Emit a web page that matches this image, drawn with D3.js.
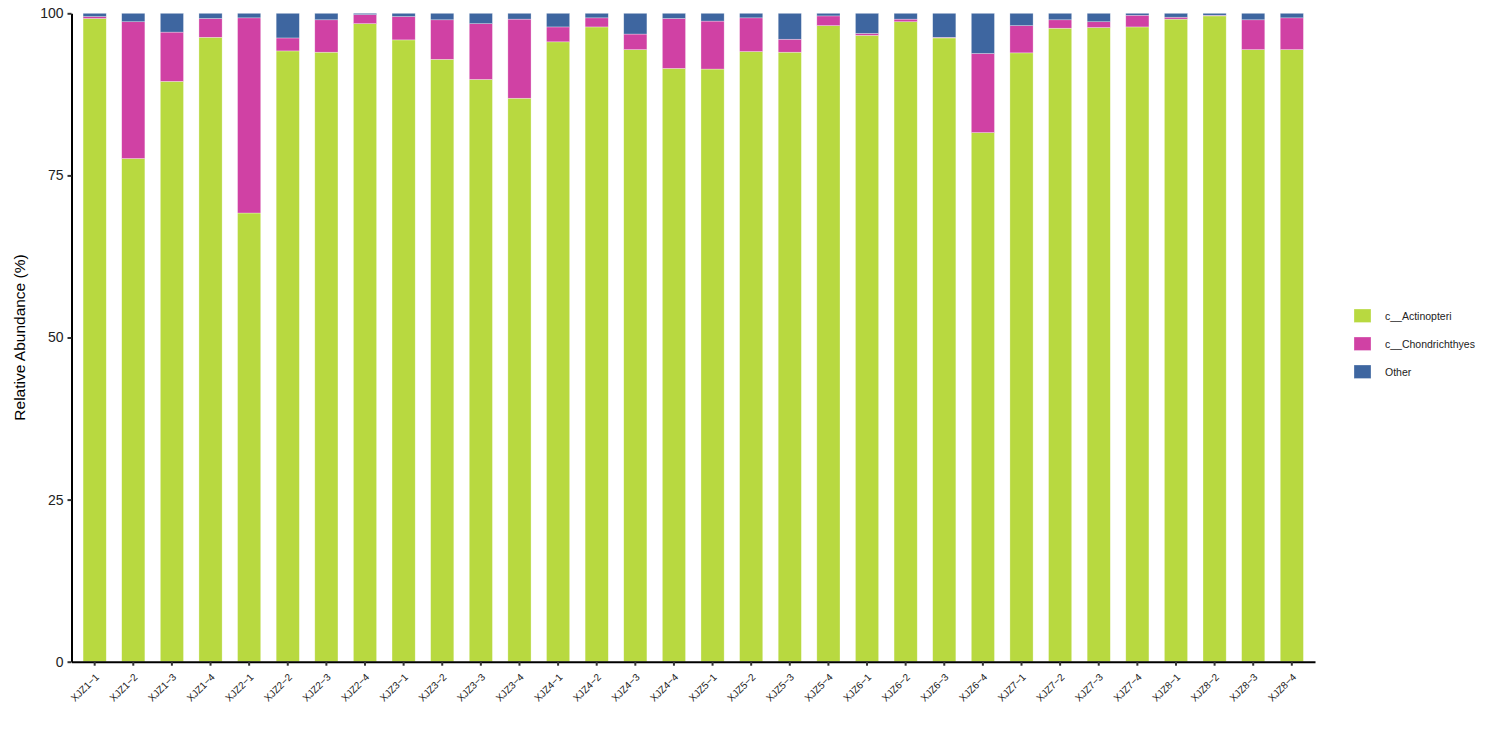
<!DOCTYPE html>
<html lang="en">
<head>
    <meta charset="UTF-8">
    <title>Relative Abundance</title>
    <script src="https://d3js.org/d3.v7.min.js"></script>
    <style>
        * { margin: 0; padding: 0; }
        body { background: #fff; }
        text { font-family: "Liberation Sans", Arial, sans-serif; }
    </style>
</head>
<body>
    <svg width="1500" height="750"></svg>
    <script>
        var samples = ["XJZ1−1", "XJZ1−2", "XJZ1−3", "XJZ1−4", "XJZ2−1", "XJZ2−2", "XJZ2−3", "XJZ2−4",
            "XJZ3−1", "XJZ3−2", "XJZ3−3", "XJZ3−4", "XJZ4−1", "XJZ4−2", "XJZ4−3", "XJZ4−4",
            "XJZ5−1", "XJZ5−2", "XJZ5−3", "XJZ5−4", "XJZ6−1", "XJZ6−2", "XJZ6−3", "XJZ6−4",
            "XJZ7−1", "XJZ7−2", "XJZ7−3", "XJZ7−4", "XJZ8−1", "XJZ8−2", "XJZ8−3", "XJZ8−4"];
        var taxa = ["c__Actinopteri", "c__Chondrichthyes", "Other"];
        var actinopteri = [99.2, 77.6, 89.5, 96.3, 69.2, 94.2, 94.0, 98.4, 95.9, 92.9, 89.8, 86.9, 95.6, 97.9, 94.4, 91.5,
            91.4, 94.1, 94.0, 98.1, 96.6, 98.7, 96.2, 81.6, 93.9, 97.7, 97.8, 97.9, 99.1, 99.6, 94.4, 94.4];
        var chondrichthyes = [0.3, 21.1, 7.6, 2.9, 30.1, 2.0, 5.0, 1.4, 3.6, 6.1, 8.6, 12.2, 2.3, 1.4, 2.4, 7.7,
            7.4, 5.2, 2.0, 1.5, 0.3, 0.4, 0.1, 12.2, 4.2, 1.3, 0.9, 1.8, 0.3, 0.1, 4.6, 4.9];
        var other = [0.5, 1.3, 2.9, 0.8, 0.7, 3.8, 1.0, 0.2, 0.5, 1.0, 1.6, 0.9, 2.1, 0.7, 3.2, 0.8,
            1.2, 0.7, 4.0, 0.4, 3.1, 0.9, 3.7, 6.2, 1.9, 1.0, 1.3, 0.3, 0.6, 0.3, 1.0, 0.7];
        var yTicks = [0, 25, 50, 75, 100];

        var colors = ["#b8d940", "#d041a4", "#3e66a0"];

        var rows = samples.map(function (s, i) {
            return { sample: s, "c__Actinopteri": actinopteri[i], "c__Chondrichthyes": chondrichthyes[i], "Other": other[i] };
        });

        var plotLeft = 71.5, plotRight = 1315, plotTop = 13.3, plotBottom = 661.7;

        var x = d3.scaleBand().domain(samples).range([plotLeft, plotRight]).paddingInner(0.4).paddingOuter(0.3);
        var y = d3.scaleLinear().domain([0, 100]).range([plotBottom, plotTop]);
        var color = d3.scaleOrdinal().domain(taxa).range(colors);

        var svg = d3.select("svg");
        var stacked = d3.stack().keys(taxa)(rows);

        // bars
        svg.append("g").selectAll("g")
            .data(stacked)
            .join("g")
            .attr("fill", function (d) { return color(d.key); })
            .selectAll("rect")
            .data(function (d) { return d; })
            .join("rect")
            .attr("x", function (d) { return x(d.data.sample); })
            .attr("width", x.bandwidth())
            .attr("y", function (d) { return y(Math.min(d[1], 100)); })
            .attr("height", function (d) { return y(d[0]) - y(Math.min(d[1], 100)); })
            .attr("stroke", "#ffffff")
            .attr("stroke-opacity", 0.5)
            .attr("stroke-width", 0.6);

        // y axis
        var yAxis = svg.append("g")
            .attr("transform", "translate(" + plotLeft + ",0)")
            .call(d3.axisLeft(y).tickValues(yTicks).tickSize(4).tickSizeOuter(0));
        yAxis.select(".domain").attr("stroke", "#000").attr("stroke-width", 2);
        yAxis.selectAll(".tick line").attr("stroke", "#333").attr("stroke-width", 2);
        yAxis.selectAll(".tick text").attr("fill", "#222").style("font-size", "14px").attr("x", -8);

        // x axis
        var xAxis = svg.append("g")
            .attr("transform", "translate(0," + plotBottom + ")")
            .call(d3.axisBottom(x).tickSize(4).tickSizeOuter(0));
        xAxis.select(".domain").attr("stroke", "#000").attr("stroke-width", 2);
        xAxis.selectAll(".tick line").attr("stroke", "#333").attr("stroke-width", 2);
        xAxis.selectAll(".tick text")
            .attr("fill", "#222")
            .style("font-size", "10px")
            .attr("text-anchor", "end")
            .attr("y", 0)
            .attr("dy", 0)
            .attr("transform", "translate(5,16) rotate(-45)");

        // y title
        svg.append("text")
            .attr("transform", "translate(24.5," + ((plotTop + plotBottom) / 2) + ") rotate(-90)")
            .attr("text-anchor", "middle")
            .style("font-size", "15.5px")
            .attr("fill", "#000")
            .text("Relative Abundance (%)");

        // legend
        var legend = svg.append("g").attr("transform", "translate(1354,309)");
        var item = legend.selectAll("g")
            .data(taxa)
            .join("g")
            .attr("transform", function (d, i) { return "translate(0," + (i * 28) + ")"; });
        item.append("rect")
            .attr("width", 17)
            .attr("height", 13.5)
            .attr("fill", function (d) { return color(d); })
            .attr("stroke", "#ffffff")
            .attr("stroke-opacity", 0.5)
            .attr("stroke-width", 0.6);
        item.append("text")
            .attr("x", 31)
            .attr("y", 7)
            .attr("dy", "0.35em")
            .style("font-size", "10.5px")
            .attr("fill", "#222")
            .text(function (d) { return d; });
    </script>
</body>
</html>
